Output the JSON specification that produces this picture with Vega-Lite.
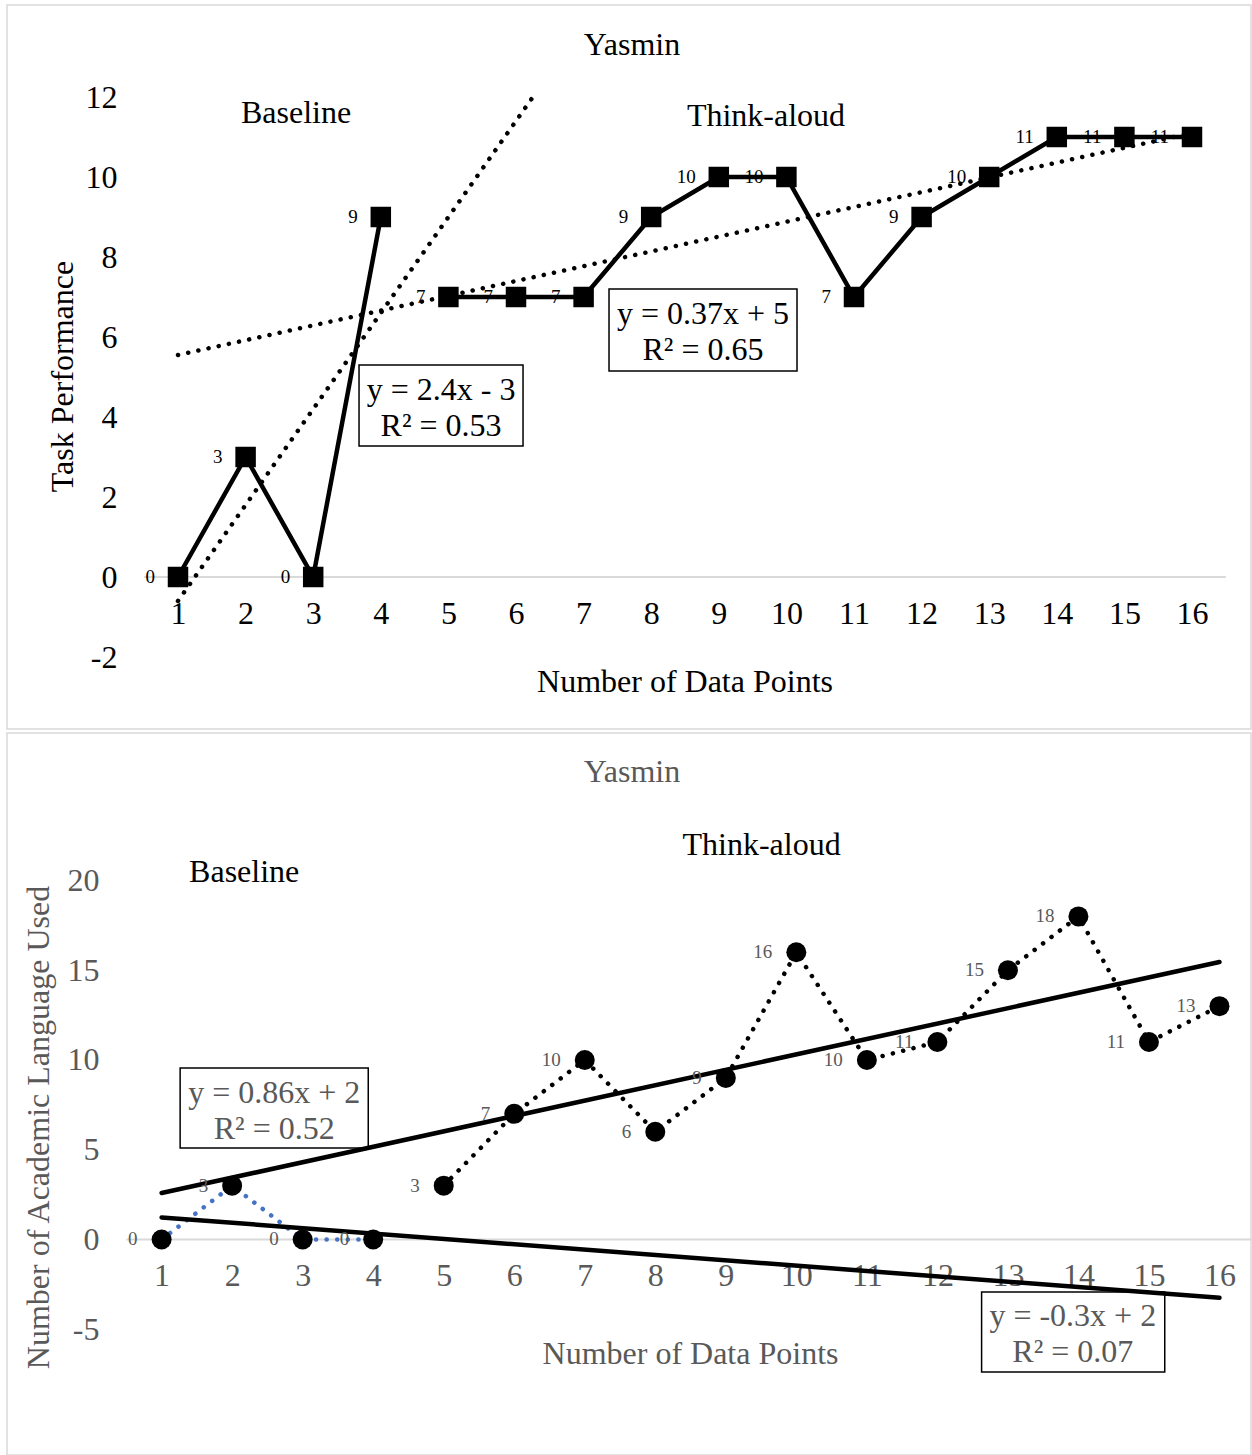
{
  "$schema": "https://vega.github.io/schema/vega-lite/v6.json",
  "background": "white",
  "padding": {"left": 6, "top": 4, "right": 0, "bottom": 0},
  "spacing": 2,
  "config": {
    "font": "Liberation Serif",
    "view": {"stroke": "#d9d9d9", "strokeWidth": 1.5},
    "axis": {"grid": false, "domain": false, "ticks": false, "tickSize": 0, "labelFontSize": 32, "titleFontSize": 32, "titleFontWeight": "normal", "labelFlush": false, "labelOverlap": false, "labelFont": "Liberation Serif", "titleFont": "Liberation Serif", "labelExpr": "'' + datum.value"}
  },
  "datasets": {
    "top_pts": [
      {"x": 1, "y": 0, "phase": "Baseline"},
      {"x": 2, "y": 3, "phase": "Baseline"},
      {"x": 3, "y": 0, "phase": "Baseline"},
      {"x": 4, "y": 9, "phase": "Baseline"},
      {"x": 5, "y": 7, "phase": "Think-aloud"},
      {"x": 6, "y": 7, "phase": "Think-aloud"},
      {"x": 7, "y": 7, "phase": "Think-aloud"},
      {"x": 8, "y": 9, "phase": "Think-aloud"},
      {"x": 9, "y": 10, "phase": "Think-aloud"},
      {"x": 10, "y": 10, "phase": "Think-aloud"},
      {"x": 11, "y": 7, "phase": "Think-aloud"},
      {"x": 12, "y": 9, "phase": "Think-aloud"},
      {"x": 13, "y": 10, "phase": "Think-aloud"},
      {"x": 14, "y": 11, "phase": "Think-aloud"},
      {"x": 15, "y": 11, "phase": "Think-aloud"},
      {"x": 16, "y": 11, "phase": "Think-aloud"}
    ],
    "top_trend": [
      {"x": 1, "y": -0.6, "phase": "Baseline"},
      {"x": 6.25, "y": 12, "phase": "Baseline"},
      {"x": 1, "y": 5.55, "phase": "Think-aloud"},
      {"x": 16, "y": 11.1, "phase": "Think-aloud"}
    ],
    "top_boxes": [
      {"x": 3.678, "x2": 6.104, "y": 3.275, "y2": 5.3},
      {"x": 7.376, "x2": 10.157, "y": 5.15, "y2": 7.2}
    ],
    "top_text": [
      {"x": 4.891, "y": 4.675, "label": "y = 2.4x - 3"},
      {"x": 4.891, "y": 3.775, "label": "R² = 0.53"},
      {"x": 8.766, "y": 6.575, "label": "y = 0.37x + 5"},
      {"x": 8.766, "y": 5.675, "label": "R² = 0.65"},
      {"x": 2.746, "y": 11.6, "label": "Baseline"},
      {"x": 9.698, "y": 11.525, "label": "Think-aloud"}
    ],
    "bot_pts": [
      {"x": 1, "y": 0, "phase": "Baseline"},
      {"x": 2, "y": 3, "phase": "Baseline"},
      {"x": 3, "y": 0, "phase": "Baseline"},
      {"x": 4, "y": 0, "phase": "Baseline"},
      {"x": 5, "y": 3, "phase": "Think-aloud"},
      {"x": 6, "y": 7, "phase": "Think-aloud"},
      {"x": 7, "y": 10, "phase": "Think-aloud"},
      {"x": 8, "y": 6, "phase": "Think-aloud"},
      {"x": 9, "y": 9, "phase": "Think-aloud"},
      {"x": 10, "y": 16, "phase": "Think-aloud"},
      {"x": 11, "y": 10, "phase": "Think-aloud"},
      {"x": 12, "y": 11, "phase": "Think-aloud"},
      {"x": 13, "y": 15, "phase": "Think-aloud"},
      {"x": 14, "y": 18, "phase": "Think-aloud"},
      {"x": 15, "y": 11, "phase": "Think-aloud"},
      {"x": 16, "y": 13, "phase": "Think-aloud"}
    ],
    "bot_trend": [
      {"x": 1, "y": 2.59, "phase": "Think-aloud"},
      {"x": 16, "y": 15.46, "phase": "Think-aloud"},
      {"x": 1, "y": 1.23, "phase": "Baseline"},
      {"x": 16, "y": -3.25, "phase": "Baseline"}
    ],
    "bot_boxes": [
      {"x": 1.2625, "x2": 3.93, "y": 5.097, "y2": 9.554},
      {"x": 12.627, "x2": 15.224, "y": -7.382, "y2": -2.925}
    ],
    "bot_eq": [
      {"x": 2.596, "y": 8.162, "label": "y = 0.86x + 2"},
      {"x": 2.596, "y": 6.156, "label": "R² = 0.52"},
      {"x": 13.92, "y": -4.262, "label": "y = -0.3x + 2"},
      {"x": 13.92, "y": -6.267, "label": "R² = 0.07"}
    ],
    "bot_phase": [
      {"x": 2.171, "y": 20.47, "label": "Baseline"},
      {"x": 9.507, "y": 21.98, "label": "Think-aloud"}
    ],
    "zero": [{"x": 0.5, "x2": 16.5, "y": 0}]
  },
  "vconcat": [
    {
      "width": 1244,
      "height": 724,
      "title": {"text": "Yasmin", "fontSize": 32, "fontWeight": "normal", "color": "black", "frame": "group", "anchor": "middle", "baseline": "alphabetic", "offset": -82, "dx": 3},
      "layer": [
        {
          "data": {"name": "zero"},
          "mark": {"type": "rule", "color": "#d9d9d9", "strokeWidth": 2},
          "encoding": {
            "x": {"field": "x", "type": "quantitative", "scale": {"domain": [-1.5296, 16.8728], "nice": false, "zero": false},
              "axis": {"values": [1,2,3,4,5,6,7,8,9,10,11,12,13,14,15,16], "labelColor": "black", "labelPadding": 21, "offset": -152, "title": "Number of Data Points", "titleColor": "black", "titleX": 677.5, "titleY": 104, "titleBaseline": "middle"}},
            "x2": {"field": "x2"},
            "y": {"field": "y", "type": "quantitative", "scale": {"domain": [-3.8, 14.3], "nice": false, "zero": false},
              "axis": {"values": [-2,0,2,4,6,8,10,12], "labelColor": "black", "labelPadding": 0, "offset": -110, "title": "Task Performance", "titleColor": "black", "titleX": -55, "titleY": 371, "titleBaseline": "middle", "titleAngle": -90}}
          }
        },
        {
          "data": {"name": "top_boxes"},
          "mark": {"type": "rect", "fill": "white", "stroke": "black", "strokeWidth": 1.5},
          "encoding": {
            "x": {"field": "x", "type": "quantitative"},
            "x2": {"field": "x2"},
            "y": {"field": "y", "type": "quantitative"},
            "y2": {"field": "y2"}
          }
        },
        {
          "data": {"name": "top_trend"},
          "mark": {"type": "line", "color": "black", "strokeWidth": 4.5, "strokeDash": [0.1, 10.3], "strokeCap": "round"},
          "encoding": {
            "x": {"field": "x", "type": "quantitative"},
            "y": {"field": "y", "type": "quantitative"},
            "detail": {"field": "phase"}
          }
        },
        {
          "data": {"name": "top_pts"},
          "mark": {"type": "line", "color": "black", "strokeWidth": 4.5},
          "encoding": {
            "x": {"field": "x", "type": "quantitative"},
            "y": {"field": "y", "type": "quantitative"},
            "detail": {"field": "phase"}
          }
        },
        {
          "data": {"name": "top_pts"},
          "mark": {"type": "point", "shape": "square", "filled": true, "color": "black", "size": 420, "opacity": 1},
          "encoding": {
            "x": {"field": "x", "type": "quantitative"},
            "y": {"field": "y", "type": "quantitative"}
          }
        },
        {
          "data": {"name": "top_pts"},
          "mark": {"type": "text", "align": "right", "baseline": "middle", "dx": -23, "fontSize": 19, "color": "black"},
          "encoding": {
            "x": {"field": "x", "type": "quantitative"},
            "y": {"field": "y", "type": "quantitative"},
            "text": {"field": "y", "type": "quantitative"}
          }
        },
        {
          "data": {"name": "top_text"},
          "mark": {"type": "text", "align": "center", "baseline": "middle", "fontSize": 32, "color": "black"},
          "encoding": {
            "x": {"field": "x", "type": "quantitative"},
            "y": {"field": "y", "type": "quantitative"},
            "text": {"field": "label"}
          }
        }
      ]
    },
    {
      "width": 1244,
      "height": 722,
      "title": {"text": "Yasmin", "fontSize": 32, "fontWeight": "normal", "color": "#595959", "frame": "group", "anchor": "middle", "baseline": "alphabetic", "offset": -81, "dx": 3},
      "layer": [
        {
          "data": {"name": "zero"},
          "mark": {"type": "rule", "color": "#d9d9d9", "strokeWidth": 2},
          "encoding": {
            "x": {"field": "x", "type": "quantitative", "scale": {"domain": [-1.1924, 16.447], "nice": false, "zero": false},
              "axis": {"values": [1,2,3,4,5,6,7,8,9,10,11,12,13,14,15,16], "labelColor": "#595959", "labelPadding": 21, "offset": -215.5, "title": "Number of Data Points", "titleColor": "#595959", "titleX": 683, "titleY": 114, "titleBaseline": "middle"}},
            "x2": {"field": "x2"},
            "y": {"field": "y", "type": "quantitative", "scale": {"domain": [-12.006, 28.217], "nice": false, "zero": false},
              "axis": {"values": [-5,0,5,10,15,20], "labelColor": "#595959", "labelPadding": 0, "offset": -92, "title": "Number of Academic Language Used", "titleColor": "#595959", "titleX": -61, "titleY": 394, "titleBaseline": "middle", "titleAngle": -90}}
          }
        },
        {
          "data": {"name": "bot_boxes"},
          "mark": {"type": "rect", "fill": "white", "stroke": "black", "strokeWidth": 1.5},
          "encoding": {
            "x": {"field": "x", "type": "quantitative"},
            "x2": {"field": "x2"},
            "y": {"field": "y", "type": "quantitative"},
            "y2": {"field": "y2"}
          }
        },
        {
          "data": {"name": "bot_pts"},
          "transform": [{"filter": "datum.phase === 'Baseline'"}],
          "mark": {"type": "line", "color": "#4472C4", "strokeWidth": 4.5, "strokeDash": [0.1, 10.5], "strokeCap": "round"},
          "encoding": {
            "x": {"field": "x", "type": "quantitative"},
            "y": {"field": "y", "type": "quantitative"}
          }
        },
        {
          "data": {"name": "bot_pts"},
          "transform": [{"filter": "datum.phase === 'Think-aloud'"}],
          "mark": {"type": "line", "color": "black", "strokeWidth": 4.5, "strokeDash": [0.1, 10.5], "strokeCap": "round"},
          "encoding": {
            "x": {"field": "x", "type": "quantitative"},
            "y": {"field": "y", "type": "quantitative"}
          }
        },
        {
          "data": {"name": "bot_trend"},
          "mark": {"type": "line", "color": "black", "strokeWidth": 4.5, "strokeCap": "round"},
          "encoding": {
            "x": {"field": "x", "type": "quantitative"},
            "y": {"field": "y", "type": "quantitative"},
            "detail": {"field": "phase"}
          }
        },
        {
          "data": {"name": "bot_pts"},
          "mark": {"type": "point", "shape": "circle", "filled": true, "color": "black", "size": 400, "opacity": 1},
          "encoding": {
            "x": {"field": "x", "type": "quantitative"},
            "y": {"field": "y", "type": "quantitative"}
          }
        },
        {
          "data": {"name": "bot_pts"},
          "mark": {"type": "text", "align": "right", "baseline": "middle", "dx": -24, "fontSize": 19, "color": "#595959"},
          "encoding": {
            "x": {"field": "x", "type": "quantitative"},
            "y": {"field": "y", "type": "quantitative"},
            "text": {"field": "y", "type": "quantitative"}
          }
        },
        {
          "data": {"name": "bot_eq"},
          "mark": {"type": "text", "align": "center", "baseline": "middle", "fontSize": 32, "color": "#595959"},
          "encoding": {
            "x": {"field": "x", "type": "quantitative"},
            "y": {"field": "y", "type": "quantitative"},
            "text": {"field": "label"}
          }
        },
        {
          "data": {"name": "bot_phase"},
          "mark": {"type": "text", "align": "center", "baseline": "middle", "fontSize": 32, "color": "black"},
          "encoding": {
            "x": {"field": "x", "type": "quantitative"},
            "y": {"field": "y", "type": "quantitative"},
            "text": {"field": "label"}
          }
        }
      ]
    }
  ]
}
